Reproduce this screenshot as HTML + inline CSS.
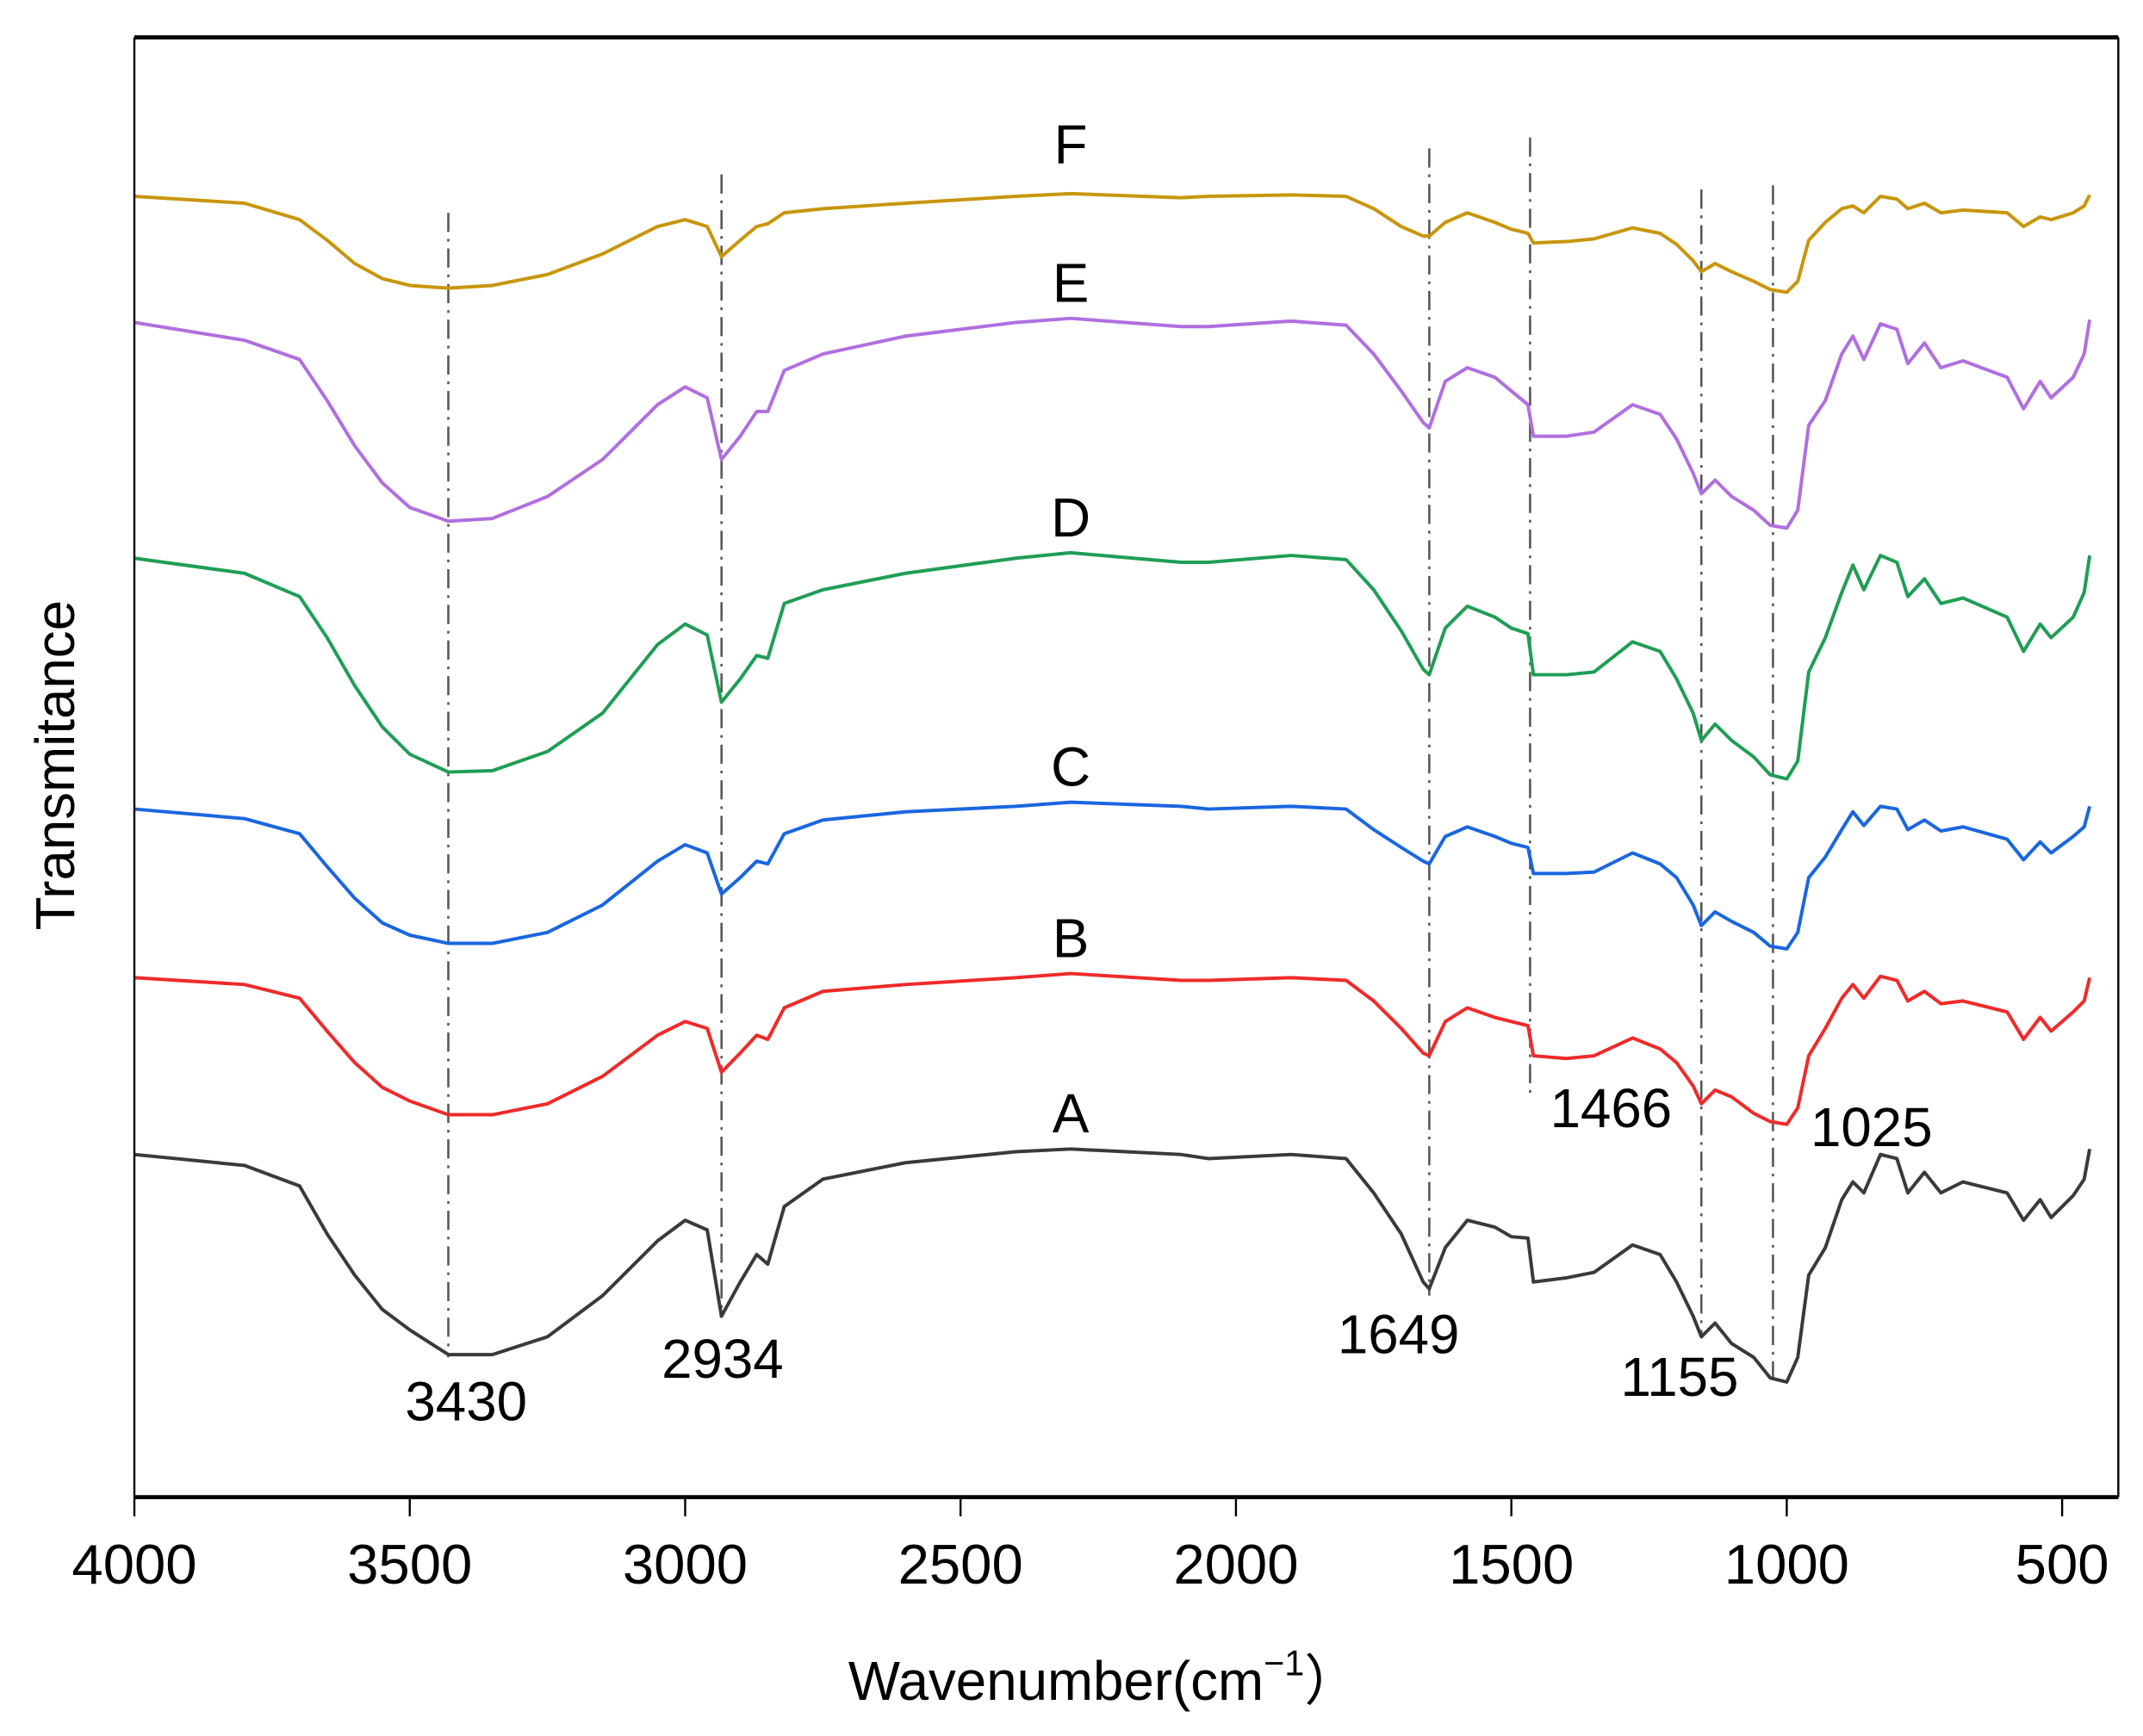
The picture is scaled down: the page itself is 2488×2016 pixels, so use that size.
<!DOCTYPE html>
<html><head><meta charset="utf-8"><style>
html,body{margin:0;padding:0;background:#fff;}
svg{display:block;}
text{font-family:"Liberation Sans",Arial,sans-serif;fill:#000;}
</style></head><body>
<svg id="chart" width="2488" height="2016" viewBox="0 0 1563 1266" xmlns="http://www.w3.org/2000/svg">
<rect x="0" y="0" width="1563" height="1266" fill="#fff"/>
<g id="lines"></g>
<g id="axes"></g>
</svg>
<script>
const wavenumbers=[4000,3800,3700,3650,3600,3550,3500,3430,3350,3250,3150,3050,3000,2960,2934,2900,2870,2850,2820,2750,2600,2400,2300,2100,2050,1900,1800,1750,1700,1660,1649,1620,1580,1530,1500,1470,1460,1400,1350,1280,1230,1200,1170,1155,1130,1100,1060,1030,1000,980,960,930,900,880,860,830,800,780,750,720,680,600,570,540,520,480,460,450];
const seriesA=[25.0,24.2,22.7,19.2,16.2,13.7,12.2,10.4,10.4,11.7,14.7,18.7,20.2,19.5,13.2,15.7,17.7,17.0,21.2,23.2,24.4,25.2,25.4,25.0,24.7,25.0,24.7,22.2,19.2,15.7,15.2,18.2,20.2,19.7,19.0,18.9,15.7,16.0,16.4,18.4,17.7,15.7,13.2,11.7,12.7,11.2,10.2,8.7,8.4,10.2,16.2,18.2,21.7,23.0,22.2,25.0,24.7,22.2,23.7,22.2,23.0,22.2,20.2,21.7,20.4,22.0,23.2,25.4];
const seriesB=[37.9,37.4,36.4,34.0,31.7,29.9,28.9,27.9,27.9,28.7,30.7,33.7,34.7,34.2,31.0,32.4,33.7,33.4,35.7,36.9,37.4,37.9,38.2,37.7,37.7,37.9,37.7,36.2,34.2,32.4,32.2,34.7,35.7,35.0,34.7,34.4,32.2,32.0,32.2,33.5,32.7,31.7,30.0,28.7,29.7,29.2,28.0,27.4,27.2,28.4,32.2,34.2,36.4,37.4,36.4,38.0,37.7,36.2,36.9,36.0,36.2,35.4,33.4,35.0,34.0,35.4,36.2,37.9];
const seriesC=[50.2,49.5,48.4,46.0,43.7,41.9,41.0,40.4,40.4,41.2,43.2,46.4,47.6,47.0,44.0,45.2,46.4,46.2,48.4,49.4,50.0,50.4,50.7,50.4,50.2,50.4,50.2,48.7,47.4,46.4,46.2,48.2,48.9,48.2,47.7,47.4,45.5,45.5,45.6,47.0,46.2,45.2,43.2,41.7,42.7,42.0,41.2,40.2,40.0,41.2,45.2,46.7,48.7,50.0,49.0,50.4,50.2,48.7,49.4,48.6,48.9,48.0,46.5,47.8,47.0,48.2,48.9,50.4];
const seriesD=[68.5,67.4,65.7,62.7,59.2,56.2,54.2,52.9,53.0,54.4,57.2,62.2,63.7,62.9,58.0,59.7,61.4,61.2,65.2,66.2,67.4,68.5,68.9,68.2,68.2,68.7,68.4,66.2,63.2,60.4,60.0,63.4,65.0,64.2,63.4,63.0,60.0,60.0,60.2,62.4,61.7,59.7,57.2,55.2,56.4,55.2,54.0,52.7,52.4,53.7,60.2,62.7,66.0,68.0,66.2,68.7,68.2,65.7,67.0,65.2,65.6,64.2,61.7,63.7,62.7,64.2,66.0,68.7];
const seriesE=[85.7,84.4,83.0,80.0,76.7,74.0,72.2,71.2,71.4,73.0,75.7,79.7,81.0,80.2,75.7,77.4,79.2,79.2,82.2,83.4,84.7,85.7,86.0,85.4,85.4,85.8,85.5,83.4,80.7,78.4,78.0,81.4,82.4,81.7,80.7,79.7,77.4,77.4,77.7,79.7,79.0,77.2,74.7,73.2,74.2,73.0,72.0,70.9,70.7,72.0,78.2,80.0,83.4,84.7,83.0,85.6,85.2,82.7,84.2,82.4,82.9,81.7,79.4,81.4,80.2,81.7,83.4,85.9];
const seriesF=[94.9,94.4,93.2,91.7,90.0,88.9,88.4,88.2,88.4,89.2,90.7,92.7,93.2,92.7,90.5,91.7,92.7,92.9,93.7,94.0,94.4,94.9,95.1,94.8,94.9,95.0,94.9,94.0,92.7,92.0,92.0,93.0,93.7,93.0,92.5,92.2,91.5,91.6,91.8,92.6,92.2,91.4,90.2,89.4,90.0,89.4,88.7,88.1,87.9,88.7,91.7,93.0,94.0,94.2,93.7,94.9,94.7,94.0,94.4,93.7,93.9,93.7,92.7,93.4,93.2,93.7,94.2,95.0];
const seriesNames=["A","B","C","D","E","F"];
const xTicks=[4000,3500,3000,2500,2000,1500,1000,500];
const peakMarks=[3430,2934,1649,1466,1155,1025];

const NS="http://www.w3.org/2000/svg";
const X0=98,X1=1545,YB=1092,YT=27;
function xs(w){return X0+(4000-w)*(1447/3602);}
function ys(v){return YB-v*10;}
function mk(tag,attrs,parent){const e=document.createElementNS(NS,tag);for(const k in attrs)e.setAttribute(k,attrs[k]);parent.appendChild(e);return e;}
const lines=document.getElementById('lines');
const axes=document.getElementById('axes');

const guideTop=[155,127,108,100,138,135];
const guideBot=[990,960,945,800,975,1005];
peakMarks.forEach((p,i)=>{
  const l=mk('line',{x1:xs(p),x2:xs(p),y1:guideTop[i],y2:guideBot[i],stroke:'#555','stroke-width':1.6,'stroke-dasharray':'14 5 2 5'},lines);
  
  
});

const allSeries=[seriesA,seriesB,seriesC,seriesD,seriesE,seriesF];
const colors=['#3a3a3a','#f02a2a','#1a66e0','#1f9e55','#b06fe0','#c8960c'];
const labelLift=[12,12,12,12,12,22];
allSeries.forEach((s,i)=>{
  let d='';
  s.forEach((v,j)=>{d+=(j?'L':'M')+xs(wavenumbers[j]).toFixed(1)+','+ys(v).toFixed(1);});
  const p=mk('path',{d:d,fill:'none',stroke:colors[i],'stroke-width':2.5,'stroke-linejoin':'round'},lines);
  
  
  const t=mk('text',{x:xs(2300),y:ys(s[22])-labelLift[i],'font-size':40,'text-anchor':'middle'},lines);
  t.textContent=seriesNames[i];
  
  
});

const annX=[340,527,1020,1175,1225,1365];
const annY=[1036,1005,987,822,1018,836];
peakMarks.forEach((p,i)=>{
  const t=mk('text',{x:annX[i],y:annY[i],'font-size':40,'text-anchor':'middle'},axes);
  t.textContent=String(p);
  
  
});

let f=mk('line',{x1:X0,x2:X1,y1:YT,y2:YT,stroke:'#000','stroke-width':3},axes);

f=mk('line',{x1:X0,x2:X1,y1:YB,y2:YB,stroke:'#000','stroke-width':3},axes);

f=mk('line',{x1:X0,x2:X0,y1:YT,y2:YB,stroke:'#000','stroke-width':1.5},axes);

f=mk('line',{x1:X1,x2:X1,y1:YT,y2:YB,stroke:'#000','stroke-width':1.5},axes);


xTicks.forEach(w=>{
  const tk=mk('line',{x1:xs(w),x2:xs(w),y1:YB,y2:YB+14,stroke:'#000','stroke-width':1.5},axes);
  
  
  const t=mk('text',{x:xs(w),y:1155,'font-size':41,'text-anchor':'middle'},axes);
  t.textContent=String(w);
  
  
});
</script>
<svg style="position:absolute;left:0;top:0" width="2488" height="2016" viewBox="0 0 1563 1266" xmlns="http://www.w3.org/2000/svg">
<text x="805" y="1240" font-size="40" text-anchor="middle">Wavenumber(cm<tspan font-size="26" dy="-18">−1</tspan><tspan dy="18">）</tspan></text>
<text x="0" y="0" font-size="40" text-anchor="middle" transform="translate(54,558) rotate(-90)">Transmitance</text>
</svg>
</body></html>
